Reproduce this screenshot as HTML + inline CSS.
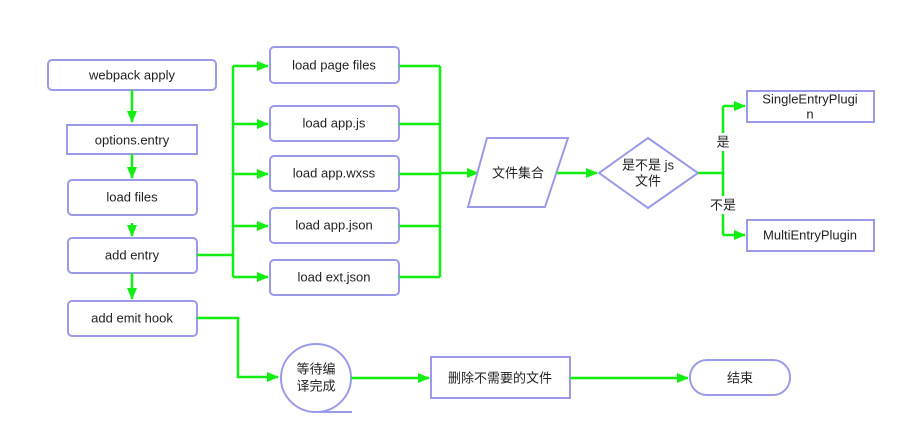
<!DOCTYPE html>
<html><head><meta charset="utf-8"><style>
html,body{margin:0;padding:0;background:#fff;}
svg{display:block}
text{font-family:"Liberation Sans","Noto Sans CJK SC",sans-serif;font-size:13px;fill:#222;text-anchor:middle;dominant-baseline:central}
.b{fill:#fff;stroke:#9a9ae8;stroke-width:2}
.l{fill:none;stroke:#11ee11;stroke-width:2.5}
</style></head><body>
<svg width="906" height="444" viewBox="0 0 906 444">
<defs><marker id="a" markerWidth="12" markerHeight="10" refX="11" refY="5" orient="auto" markerUnits="userSpaceOnUse"><path d="M0,0 L12,5 L0,10 z" fill="#11ee11"/></marker></defs>
<!-- left column -->
<rect class="b" x="48" y="60" width="168" height="30" rx="4"/><text x="132" y="75">webpack apply</text>
<rect class="b" x="67" y="125" width="130" height="29"/><text x="132" y="140">options.entry</text>
<rect class="b" x="68" y="180" width="129" height="35" rx="4"/><text x="132" y="197">load files</text>
<rect class="b" x="68" y="238" width="129" height="35" rx="4"/><text x="132" y="255">add entry</text>
<rect class="b" x="68" y="301" width="129" height="35" rx="4"/><text x="132" y="318">add emit hook</text>
<path class="l" d="M132,90 V122" marker-end="url(#a)"/>
<path class="l" d="M132,154 V178" marker-end="url(#a)"/>
<path class="l" d="M132,223 V236" marker-end="url(#a)"/>
<path class="l" d="M132,273 V299" marker-end="url(#a)"/>
<!-- load boxes -->
<rect class="b" x="270" y="47" width="129" height="36" rx="4"/><text x="334" y="65">load page files</text>
<rect class="b" x="270" y="106" width="129" height="35" rx="4"/><text x="334" y="123">load app.js</text>
<rect class="b" x="270" y="156" width="129" height="35" rx="4"/><text x="334" y="173">load app.wxss</text>
<rect class="b" x="270" y="208" width="129" height="35" rx="4"/><text x="334" y="225">load app.json</text>
<rect class="b" x="270" y="260" width="129" height="35" rx="4"/><text x="334" y="277">load ext.json</text>
<path class="l" d="M197,255 H233 M233,66 V277"/>
<path class="l" d="M233,66 H268" marker-end="url(#a)"/>
<path class="l" d="M233,124 H268" marker-end="url(#a)"/>
<path class="l" d="M233,174 H268" marker-end="url(#a)"/>
<path class="l" d="M233,226 H268" marker-end="url(#a)"/>
<path class="l" d="M233,277 H268" marker-end="url(#a)"/>
<path class="l" d="M399,66 H440 M399,124 H440 M399,174 H440 M399,226 H440 M399,277 H440 M440,66 V277"/>
<path class="l" d="M440,173 H478" marker-end="url(#a)"/>
<!-- parallelogram -->
<polygon class="b" points="487,138 568,138 545,207 468,207"/><text x="518" y="173">文件集合</text>
<path class="l" d="M557,173 H597" marker-end="url(#a)"/>
<polygon class="b" points="599,173 648,138 698,173 648,208"/>
<text x="648" y="165">是不是 js</text><text x="648" y="181">文件</text>
<path class="l" d="M698,173 H723 M723,106 V235"/>
<path class="l" d="M723,106 H745" marker-end="url(#a)"/>
<path class="l" d="M723,235 H745" marker-end="url(#a)"/>
<rect x="713" y="133" width="20" height="18" fill="#fff"/><text x="723" y="142">是</text>
<rect x="708" y="196" width="30" height="18" fill="#fff"/><text x="723" y="205">不是</text>
<rect class="b" x="747" y="91" width="127" height="31"/><text x="810" y="99">SingleEntryPlugi</text><text x="810" y="114">n</text>
<rect class="b" x="747" y="220" width="127" height="31"/><text x="810" y="235">MultiEntryPlugin</text>
<!-- bottom -->
<path class="l" d="M197,318 H238 V377 H278" marker-end="url(#a)"/>
<ellipse class="b" cx="316" cy="378" rx="35" ry="34"/>
<path d="M316,412 H352" stroke="#9a9ae8" stroke-width="2"/>
<text x="316" y="369">等待编</text><text x="316" y="386">译完成</text>
<path class="l" d="M351,378 H429" marker-end="url(#a)"/>
<rect class="b" x="431" y="357" width="139" height="41"/><text x="500" y="378">删除不需要的文件</text>
<path class="l" d="M570,378 H688" marker-end="url(#a)"/>
<rect class="b" x="690" y="360" width="100" height="35" rx="17"/><text x="740" y="378">结束</text>
</svg>
</body></html>
